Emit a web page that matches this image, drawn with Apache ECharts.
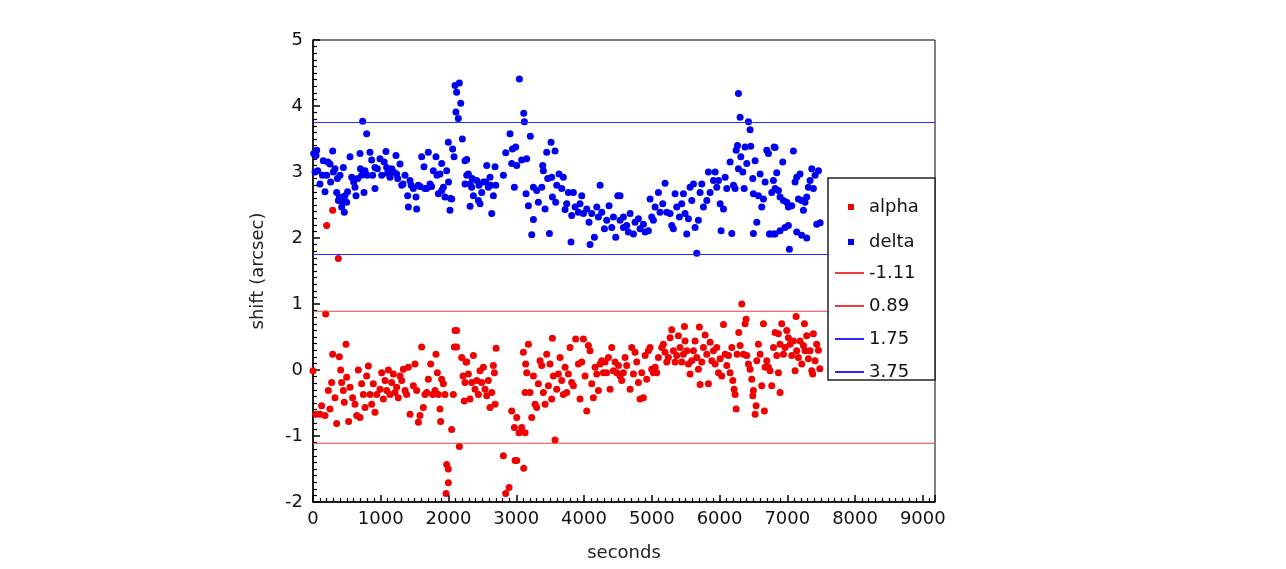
<!DOCTYPE html>
<html>
<head>
<meta charset="utf-8">
<script src="https://cdn.jsdelivr.net/npm/echarts@6/dist/echarts.min.js"></script>
<style>
  html, body { margin: 0; padding: 0; background: #fff; }
  #chart { width: 1286px; height: 569px; }
</style>
</head>
<body>
<div id="chart"></div>
<script>
// x axis (seconds) and y axis (arcsec) ranges
const xMin = 0
const xMax = 9180
const yMin = -2
const yMax = 5

// alpha shift: [seconds, arcsec]
const alphaData = [
  [0, -0.01], [44, -0.67], [103, -0.67], [128, -0.54], [177, -0.69], [187, 0.85], [202, 2.19],
  [226, -0.31], [251, -0.59], [275, -0.19], [290, 2.42], [290, 0.24], [325, -0.42], [349, -0.81],
  [374, 1.69], [389, 0.2], [408, 0.0], [423, -0.19], [448, -0.31], [462, -0.49], [487, 0.39],
  [497, -0.11], [526, -0.78], [546, -0.26], [585, -0.42], [620, -0.52], [645, -0.69], [669, 0.0],
  [694, -0.72], [718, -0.21], [743, -0.37], [768, -0.57], [792, -0.09], [817, 0.06], [841, -0.37],
  [866, -0.52], [890, -0.21], [915, -0.64], [940, -0.37], [989, -0.29], [1014, -0.04], [1038, -0.44],
  [1063, -0.16], [1087, -0.31], [1112, 0.0], [1136, -0.37], [1161, -0.19], [1186, -0.06], [1210, -0.34],
  [1235, -0.26], [1259, -0.42], [1284, -0.09], [1309, -0.16], [1333, 0.01], [1358, -0.31], [1382, -0.37],
  [1407, 0.04], [1432, -0.67], [1481, -0.24], [1505, 0.09], [1530, -0.31], [1555, -0.79], [1579, -0.69],
  [1604, 0.35], [1629, -0.57], [1653, -0.37], [1678, -0.34], [1702, -0.14], [1737, 0.09], [1766, -0.37],
  [1801, -0.31], [1815, 0.24], [1835, -0.04], [1850, -0.37], [1874, -0.59], [1884, -0.78], [1899, -0.14],
  [1924, -0.21], [1948, -0.37], [1963, -1.87], [1973, -1.43], [1997, -1.5], [1997, -1.71], [2047, -0.9],
  [2071, -0.37], [2086, 0.35], [2096, 0.6], [2120, 0.6], [2120, 0.35], [2160, -1.16], [2194, 0.19],
  [2214, -0.09], [2233, -0.47], [2243, -0.19], [2258, 0.12], [2269, 0.12], [2293, -0.06], [2318, -0.44],
  [2342, -0.19], [2367, 0.22], [2391, -0.29], [2416, -0.16], [2441, -0.37], [2465, -0.01], [2490, -0.19],
  [2515, 0.04], [2539, -0.29], [2564, -0.39], [2588, -0.16], [2613, -0.57], [2638, -0.34], [2662, 0.07],
  [2677, -0.04], [2687, -0.52], [2702, 0.33], [2810, -1.3], [2844, -1.87], [2894, -1.78], [2933, -0.62],
  [2972, -0.87], [2982, -1.37], [3007, -0.72], [3007, -1.37], [3041, -0.95], [3080, -0.87], [3105, 0.27],
  [3110, -1.49], [3130, -0.95], [3130, -0.34], [3139, 0.09], [3154, -0.04], [3179, 0.39], [3203, -0.34],
  [3228, -0.72], [3253, -0.09], [3277, -0.52], [3302, -0.57], [3326, -0.21], [3351, 0.14], [3376, 0.07],
  [3400, -0.34], [3425, -0.52], [3449, 0.24], [3474, -0.24], [3498, 0.09], [3523, -0.44], [3533, 0.48],
  [3548, -0.09], [3572, -1.06], [3597, -0.29], [3622, -0.06], [3646, 0.19], [3671, -0.16], [3695, -0.37],
  [3720, 0.04], [3745, -0.34], [3769, -0.06], [3794, 0.34], [3818, -0.19], [3843, -0.24], [3877, 0.47],
  [3917, 0.09], [3941, -0.44], [3966, 0.12], [3991, 0.47], [4015, -0.09], [4040, -0.62], [4064, 0.37],
  [4089, 0.29], [4114, -0.21], [4138, -0.42], [4163, 0.04], [4188, -0.06], [4212, -0.31], [4237, 0.09],
  [4262, 0.14], [4286, -0.04], [4311, 0.12], [4335, -0.04], [4360, 0.19], [4385, -0.29], [4409, 0.34],
  [4434, -0.01], [4458, 0.12], [4483, -0.04], [4508, 0.07], [4532, -0.09], [4557, -0.16], [4581, -0.04],
  [4606, 0.19], [4630, 0.07], [4680, -0.29], [4704, 0.34], [4729, -0.06], [4753, 0.27], [4778, 0.12],
  [4803, -0.19], [4827, -0.44], [4852, -0.04], [4876, -0.42], [4901, 0.22], [4925, -0.14], [4950, 0.29],
  [4975, 0.34], [4999, 0.01], [5024, -0.04], [5049, 0.04], [5073, -0.04], [5098, 0.19], [5147, 0.34],
  [5171, 0.39], [5196, 0.27], [5221, 0.12], [5245, 0.19], [5270, 0.49], [5295, 0.61], [5319, 0.29],
  [5344, 0.12], [5368, 0.22], [5393, 0.52], [5417, 0.34], [5442, 0.12], [5467, 0.24], [5482, 0.66],
  [5491, 0.44], [5516, 0.29], [5541, 0.09], [5565, -0.06], [5590, 0.14], [5615, 0.29], [5639, 0.44],
  [5664, 0.19], [5688, 0.01], [5703, 0.65], [5713, -0.22], [5738, 0.12], [5762, 0.34], [5787, 0.53],
  [5812, 0.24], [5836, -0.21], [5861, 0.42], [5886, 0.14], [5910, 0.29], [5935, 0.09], [5959, 0.34],
  [5984, -0.04], [6009, 0.17], [6033, -0.09], [6058, 0.69], [6083, 0.24], [6107, 0.07], [6132, 0.22],
  [6156, -0.04], [6181, 0.34], [6196, -0.16], [6215, -0.29], [6230, -0.37], [6245, -0.59], [6259, 0.24],
  [6284, 0.57], [6304, 0.37], [6328, 1.0], [6353, 0.24], [6377, 0.7], [6392, 0.77], [6402, 0.22],
  [6427, 0.09], [6451, 0.01], [6476, -0.14], [6491, -0.39], [6500, -0.31], [6525, -0.67], [6540, -0.54],
  [6550, 0.14], [6574, 0.39], [6599, 0.24], [6623, -0.24], [6648, 0.7], [6662, -0.62], [6673, 0.04],
  [6697, 0.14], [6722, 0.04], [6746, -0.01], [6771, -0.24], [6796, 0.34], [6820, 0.57], [6845, 0.22],
  [6869, -0.04], [6869, 0.55], [6893, 0.39], [6893, -0.34], [6918, 0.7], [6943, 0.24], [6967, 0.34],
  [6992, 0.6], [7016, 0.49], [7041, 0.39], [7066, 0.22], [7090, 0.44], [7115, -0.01], [7130, 0.81],
  [7139, 0.29], [7164, 0.19], [7188, 0.44], [7213, 0.09], [7238, 0.37], [7253, 0.7], [7262, 0.29],
  [7287, 0.52], [7311, 0.17], [7336, 0.29], [7361, -0.01], [7375, -0.06], [7385, 0.55], [7410, 0.14],
  [7434, 0.39], [7460, 0.3], [7480, 0.02]
]

// delta shift: [seconds, arcsec]
const deltaData = [
  [10, 3.28], [30, 3.0], [44, 3.25], [54, 3.33], [70, 3.02], [103, 2.82], [140, 2.95], [152, 3.17],
  [177, 2.7], [202, 2.95], [220, 3.15], [251, 3.12], [260, 2.85], [290, 3.32], [300, 3.0], [325, 3.05],
  [349, 2.69], [360, 2.9], [374, 2.57], [390, 2.62], [398, 2.95], [423, 2.47], [440, 2.55], [448, 3.07],
  [462, 2.39], [472, 2.64], [497, 2.54], [510, 2.7], [546, 3.23], [571, 2.92], [600, 2.85], [620, 2.77],
  [635, 2.64], [660, 2.9], [694, 3.28], [700, 3.05], [718, 2.95], [733, 3.77], [753, 2.69], [768, 3.02],
  [792, 3.58], [800, 2.95], [841, 3.3], [866, 3.18], [880, 2.95], [915, 3.07], [915, 2.75], [950, 3.05],
  [989, 3.2], [1014, 2.95], [1050, 3.15], [1077, 3.31], [1087, 3.07], [1100, 2.98], [1136, 2.92],
  [1161, 3.05], [1190, 3.0], [1225, 3.25], [1235, 2.97], [1250, 2.9], [1284, 3.12], [1309, 2.8],
  [1330, 2.82], [1358, 2.95], [1397, 2.64], [1407, 2.47], [1432, 2.87], [1450, 2.8], [1481, 2.75],
  [1520, 2.62], [1530, 2.44], [1555, 2.8], [1580, 2.78], [1604, 3.23], [1638, 3.08], [1650, 2.75],
  [1678, 2.75], [1702, 3.3], [1727, 2.82], [1750, 2.78], [1776, 3.02], [1815, 3.23], [1830, 2.95],
  [1850, 2.67], [1874, 2.97], [1899, 3.13], [1900, 2.72], [1924, 2.77], [1948, 2.62], [1973, 3.02],
  [1997, 3.45], [2000, 2.85], [2022, 2.42], [2030, 2.6], [2047, 2.59], [2061, 3.35], [2081, 3.23],
  [2096, 4.31], [2110, 3.91], [2120, 4.21], [2145, 3.81], [2160, 4.35], [2180, 4.04], [2204, 3.5],
  [2243, 3.17], [2243, 2.82], [2269, 2.95], [2269, 3.19], [2293, 2.97], [2318, 2.82], [2318, 2.48],
  [2342, 2.77], [2350, 2.9], [2367, 2.64], [2416, 2.87], [2441, 2.57], [2450, 2.8], [2465, 2.52],
  [2490, 2.69], [2515, 2.85], [2550, 2.85], [2564, 3.1], [2588, 2.77], [2613, 2.92], [2620, 2.8],
  [2638, 2.37], [2662, 2.64], [2687, 3.08], [2697, 2.8], [2810, 2.95], [2844, 3.29], [2908, 3.58],
  [2933, 3.13], [2943, 3.35], [2972, 2.77], [2992, 3.38], [3007, 3.1], [3046, 4.41], [3080, 3.18],
  [3110, 3.89], [3120, 3.76], [3144, 2.67], [3154, 3.2], [3179, 2.49], [3208, 3.54], [3228, 2.05],
  [3253, 2.28], [3253, 2.77], [3302, 2.72], [3326, 2.54], [3376, 2.77], [3390, 3.1], [3400, 3.02],
  [3425, 2.44], [3449, 3.3], [3464, 2.9], [3489, 2.07], [3513, 3.45], [3523, 2.92], [3533, 2.62],
  [3572, 3.32], [3582, 2.54], [3597, 2.8], [3631, 2.97], [3671, 2.75], [3695, 2.92], [3720, 2.43],
  [3745, 2.52], [3769, 2.69], [3808, 1.94], [3818, 2.34], [3843, 2.69], [3868, 2.47], [3917, 2.39],
  [3941, 2.52], [3966, 2.64], [3991, 2.37], [4040, 2.44], [4074, 2.24], [4089, 1.9], [4114, 2.37],
  [4153, 2.01], [4188, 2.47], [4212, 2.32], [4237, 2.8], [4262, 2.39], [4301, 2.14], [4335, 2.27],
  [4370, 2.49], [4409, 2.16], [4434, 2.32], [4468, 2.01], [4498, 2.64], [4532, 2.27], [4532, 2.64],
  [4581, 2.32], [4582, 2.16], [4630, 2.19], [4655, 2.09], [4680, 2.37], [4729, 2.06], [4753, 2.24],
  [4803, 2.29], [4827, 2.14], [4876, 2.21], [4901, 2.09], [4950, 2.11], [4975, 2.59], [4999, 2.32],
  [5024, 2.27], [5049, 2.47], [5098, 2.69], [5122, 2.39], [5162, 2.52], [5196, 2.83], [5221, 2.39],
  [5270, 2.37], [5295, 2.19], [5319, 2.14], [5344, 2.67], [5368, 2.47], [5408, 2.32], [5442, 2.52],
  [5467, 2.67], [5491, 2.37], [5516, 2.06], [5541, 2.29], [5565, 2.77], [5590, 2.57], [5615, 2.82],
  [5639, 2.16], [5664, 1.77], [5688, 2.27], [5713, 2.69], [5738, 2.82], [5762, 2.47], [5812, 2.57],
  [5836, 3.0], [5861, 2.69], [5910, 2.87], [5935, 3.0], [5959, 2.77], [5984, 2.87], [6009, 2.52],
  [6023, 2.11], [6058, 2.44], [6083, 2.92], [6107, 2.75], [6156, 3.15], [6181, 2.07], [6206, 2.8],
  [6230, 2.75], [6245, 3.33], [6265, 3.4], [6279, 4.19], [6279, 3.05], [6304, 3.83], [6314, 3.23],
  [6343, 3.0], [6363, 2.75], [6377, 3.38], [6402, 3.13], [6427, 3.76], [6451, 3.64], [6461, 3.39],
  [6491, 2.9], [6500, 2.07], [6500, 2.67], [6525, 3.17], [6550, 2.24], [6574, 2.64], [6599, 2.97],
  [6623, 2.47], [6648, 2.59], [6673, 2.85], [6697, 3.33], [6722, 3.28], [6736, 2.06], [6746, 2.06],
  [6771, 2.69], [6795, 2.87], [6796, 2.06], [6806, 3.38], [6820, 2.75], [6820, 3.37], [6820, 2.06],
  [6844, 2.99], [6869, 2.72], [6893, 2.62], [6893, 2.11], [6933, 3.15], [6943, 2.57], [6967, 2.16],
  [6992, 2.54], [7016, 2.47], [7016, 2.19], [7031, 1.83], [7066, 2.49], [7090, 3.32], [7115, 2.85],
  [7139, 2.92], [7139, 2.09], [7164, 2.59], [7188, 2.97], [7213, 2.57], [7213, 2.04], [7238, 2.42],
  [7262, 2.54], [7287, 2.62], [7287, 2.0], [7311, 2.77], [7336, 2.87], [7361, 3.05], [7385, 2.75],
  [7410, 2.95], [7434, 2.21], [7460, 3.02], [7485, 2.23]
]

// horizontal limit lines
const lineNames = ['-1.11', '0.89', '1.75', '3.75']
const lineValues = [-1.11, 0.89, 1.75, 3.75]
const lineColors = ['#f03c3c', '#f03c3c', '#2b2bff', '#2b2bff']

const chart = echarts.init(document.getElementById('chart'))
const font = 'DejaVu Sans'

const lineSeries = lineNames.map((name, i) => ({
  name: name,
  type: 'line',
  data: [[xMin, lineValues[i]], [xMax, lineValues[i]]],
  symbol: 'none',
  lineStyle: { color: lineColors[i], width: 1.2 },
  itemStyle: { color: lineColors[i] },
  z: 3,
  silent: true,
  animation: false
}))

chart.setOption({
  animation: false,
  backgroundColor: '#fff',
  textStyle: { fontFamily: font },
  grid: {
    left: 313, top: 40, width: 622, height: 462,
    show: true, borderColor: '#000', borderWidth: 1
  },
  xAxis: {
    type: 'value', min: xMin, max: xMax, interval: 1000,
    name: 'seconds', nameLocation: 'middle', nameGap: 42,
    nameTextStyle: { fontSize: 18, color: '#222', fontFamily: font },
    axisLine: { show: true, onZero: false, lineStyle: { color: '#000', width: 1.5 } },
    axisTick: { show: true, inside: true, length: 7, lineStyle: { color: '#000', width: 1.5 } },
    minorTick: { show: true, splitNumber: 10, length: 4, lineStyle: { color: '#000', width: 1.2 } },
    splitLine: { show: false },
    axisLabel: {
      fontSize: 18, color: '#111', margin: 8, fontFamily: font, showMaxLabel: false,
      formatter: v => String(v)
    }
  },
  yAxis: {
    type: 'value', min: yMin, max: yMax, interval: 1,
    name: 'shift (arcsec)', nameLocation: 'middle', nameGap: 46,
    nameTextStyle: { fontSize: 18, color: '#222', fontFamily: font },
    axisLine: { show: true, onZero: false, lineStyle: { color: '#000', width: 1.5 } },
    axisTick: { show: true, inside: true, length: 7, lineStyle: { color: '#000', width: 1.5 } },
    minorTick: { show: true, splitNumber: 10, length: 4, lineStyle: { color: '#000', width: 1.2 } },
    splitLine: { show: false },
    axisLabel: { fontSize: 18, color: '#111', margin: 10, fontFamily: font }
  },
  legend: [
    {
      data: ['alpha', 'delta'],
      orient: 'vertical', left: 843, top: 192,
      itemWidth: 6, itemHeight: 6, itemGap: 15,
      icon: 'rect',
      textStyle: { fontSize: 18, color: '#111', fontFamily: font, lineHeight: 20, padding: [0, 0, 0, 10] },
      selectedMode: false, z: 20
    },
    {
      data: lineNames,
      orient: 'vertical', left: 829, top: 258,
      itemWidth: 29, itemHeight: 2, itemGap: 13,
      textStyle: { fontSize: 18, color: '#111', fontFamily: font, lineHeight: 20, padding: [0, 0, 0, 0] },
      selectedMode: false, z: 20
    }
  ],
  graphic: [
    {
      type: 'rect', z: 10,
      shape: { x: 828, y: 178, width: 107, height: 202 },
      style: { fill: '#fff', stroke: '#222', lineWidth: 1.5 }
    }
  ],
  series: [
    {
      name: 'alpha', type: 'scatter', data: alphaData,
      symbolSize: 7, itemStyle: { color: '#f00000', opacity: 1 }, z: 2
    },
    {
      name: 'delta', type: 'scatter', data: deltaData,
      symbolSize: 7, itemStyle: { color: '#0000f0', opacity: 1 }, z: 2
    }
  ].concat(lineSeries)
})
</script>
</body>
</html>
